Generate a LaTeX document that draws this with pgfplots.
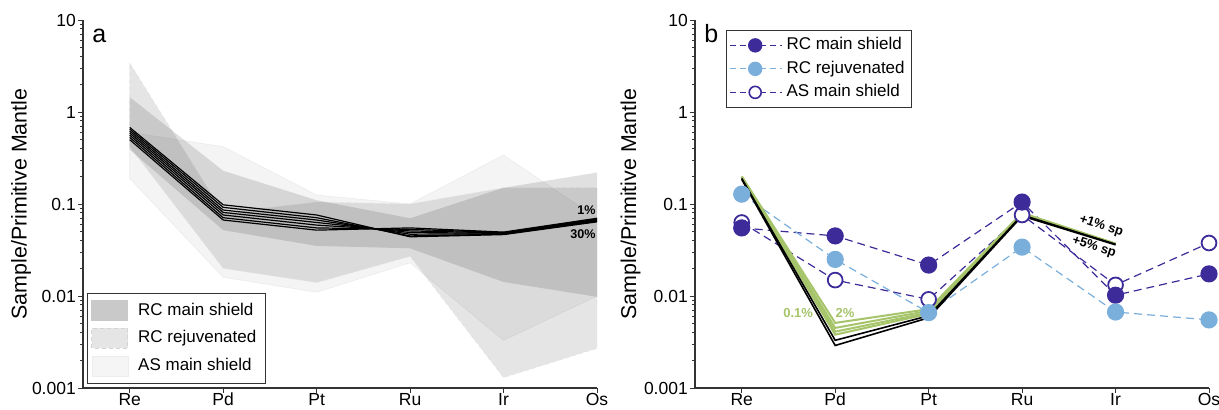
\documentclass[border=0pt]{standalone}
\usepackage{fontspec}
\setmainfont{Liberation Sans}
\usepackage{pgfplots}
\pgfplotsset{compat=1.18}

\definecolor{rcmain}{RGB}{61,43,154}
\definecolor{rcrej}{RGB}{122,174,219}
\definecolor{modgreen}{RGB}{166,196,106}

\begin{document}
\begin{tikzpicture}
\useasboundingbox (0,0) rectangle (609.5pt,204.5pt);

% ---------------- panel a ----------------
\begin{axis}[
  scale only axis, width=257pt, height=184pt,
  ymode=log, ymin=0.001, ymax=10,
  xmin=-0.5, xmax=5,
  axis x line*=bottom, axis y line*=left,
  axis line style={black!80, line width=0.6pt},
  ytick={0.001,0.01,0.1,1,10},
  yticklabels={0.001,0.01,0.1,1,10},
  minor ytick={0.002,0.003,0.004,0.005,0.006,0.007,0.008,0.009,
               0.02,0.03,0.04,0.05,0.06,0.07,0.08,0.09,
               0.2,0.3,0.4,0.5,0.6,0.7,0.8,0.9,2,3,4,5,6,7,8,9},
  xtick={0,1,2,3,4,5},
  xticklabels={Re,Pd,Pt,Ru,Ir,Os},
  tick align=outside,
  major tick length=2.6pt, minor tick length=1.6pt,
  tick style={black!80, line width=0.5pt},
  ticklabel style={font=\fontsize{8.75}{10}\selectfont},
  yticklabel style={inner sep=0.8pt},
  xticklabel style={inner sep=0pt, yshift=0.3pt},
  ylabel={Sample/Primitive Mantle},
  ylabel style={font=\fontsize{10.7}{12}\selectfont, anchor=center,
                at={(axis description cs:-0.1206,0.5)}},
  at={(41.5pt,10.5pt)}, anchor=south west,
  legend style={at={(0,0)}, anchor=south west, xshift=2pt, yshift=2pt,
    draw=black!80, line width=0.6pt, inner sep=1.8pt,
    font=\fontsize{8.5}{10}\selectfont,
    nodes={text height=6.2pt, text depth=1.8pt, inner sep=2.9pt},
    row sep=0pt},
  legend cell align=left,
]
\addlegendimage{legend image code/.code={\fill[black!21] (0pt,-5pt) rectangle (18pt,5pt); \path (20pt,0pt);}}
\addlegendentry{RC main shield}
\addlegendimage{legend image code/.code={\draw[fill=black!10, draw=black!17, line width=0.4pt, dash pattern=on 2pt off 1.5pt] (0pt,-5pt) rectangle (18pt,5pt); \path (20pt,0pt);}}
\addlegendentry{RC rejuvenated}
\addlegendimage{legend image code/.code={\draw[fill=black!4, draw=black!7, line width=0.3pt] (0pt,-5pt) rectangle (18pt,5pt); \path (20pt,0pt);}}
\addlegendentry{AS main shield}

% AS main shield envelope
\addplot[forget plot, fill=black, fill opacity=0.045, draw=black!8, line width=0.3pt]
  coordinates {(0,0.6) (1,0.42) (2,0.125) (3,0.1) (4,0.34) (5,0.07)
               (5,0.01) (4,0.0033) (3,0.023) (2,0.011) (1,0.016) (0,0.19)} -- cycle;
% RC rejuvenated envelope
\addplot[forget plot, fill=black, fill opacity=0.1, draw=black!11, line width=0.3pt,
         dash pattern=on 2pt off 1.5pt]
  coordinates {(0,3.4) (1,0.08) (2,0.105) (3,0.1) (4,0.15) (5,0.15)
               (5,0.0027) (4,0.0013) (3,0.027) (2,0.014) (1,0.02) (0,0.42)} -- cycle;
% RC main shield envelope
\addplot[forget plot, fill=black, fill opacity=0.12, draw=none]
  coordinates {(0,1.45) (1,0.23) (2,0.11) (3,0.07) (4,0.15) (5,0.22)
               (5,0.0098) (4,0.0142) (3,0.033) (2,0.035) (1,0.052) (0,0.39)} -- cycle;

% melting curves, 1% to 30%
\addplot[forget plot, black, line width=0.6pt] coordinates {(0,0.50) (1,0.067) (2,0.052) (3,0.055) (4,0.0495) (5,0.070)};
\addplot[forget plot, black, line width=0.6pt] coordinates {(0,0.53) (1,0.071) (2,0.055) (3,0.053) (4,0.0490) (5,0.069)};
\addplot[forget plot, black, line width=0.6pt] coordinates {(0,0.56) (1,0.076) (2,0.059) (3,0.051) (4,0.0485) (5,0.068)};
\addplot[forget plot, black, line width=0.6pt] coordinates {(0,0.59) (1,0.081) (2,0.063) (3,0.049) (4,0.0480) (5,0.067)};
\addplot[forget plot, black, line width=0.6pt] coordinates {(0,0.62) (1,0.086) (2,0.067) (3,0.047) (4,0.0475) (5,0.066)};
\addplot[forget plot, black, line width=0.6pt] coordinates {(0,0.65) (1,0.092) (2,0.071) (3,0.045) (4,0.0470) (5,0.065)};
\addplot[forget plot, black, line width=0.6pt] coordinates {(0,0.68) (1,0.098) (2,0.076) (3,0.044) (4,0.0465) (5,0.064)};

\node[anchor=east, inner sep=0pt, font=\bfseries\fontsize{6.3}{7}\selectfont] at (axis cs:4.99,0.086) {1\%};
\node[anchor=east, inner sep=0pt, font=\bfseries\fontsize{6.3}{7}\selectfont] at (axis cs:4.99,0.047) {30\%};
\end{axis}

% ---------------- panel b ----------------
\begin{axis}[
  scale only axis, width=257pt, height=184pt,
  ymode=log, ymin=0.001, ymax=10,
  xmin=-0.5, xmax=5,
  axis x line*=bottom, axis y line*=left,
  axis line style={black!80, line width=0.6pt},
  ytick={0.001,0.01,0.1,1,10},
  yticklabels={0.001,0.01,0.1,1,10},
  minor ytick={0.002,0.003,0.004,0.005,0.006,0.007,0.008,0.009,
               0.02,0.03,0.04,0.05,0.06,0.07,0.08,0.09,
               0.2,0.3,0.4,0.5,0.6,0.7,0.8,0.9,2,3,4,5,6,7,8,9},
  xtick={0,1,2,3,4,5},
  xticklabels={Re,Pd,Pt,Ru,Ir,Os},
  tick align=outside,
  major tick length=2.6pt, minor tick length=1.6pt,
  tick style={black!80, line width=0.5pt},
  ticklabel style={font=\fontsize{8.75}{10}\selectfont},
  yticklabel style={inner sep=0.8pt},
  xticklabel style={inner sep=0pt, yshift=0.3pt},
  ylabel={Sample/Primitive Mantle},
  ylabel style={font=\fontsize{10.7}{12}\selectfont, anchor=center,
                at={(axis description cs:-0.1255,0.5)}},
  at={(347.5pt,10.5pt)}, anchor=south west,
  legend style={at={(0,1)}, anchor=north west, xshift=15.5pt, yshift=-5pt,
    draw=black!80, line width=0.6pt, inner sep=1.5pt,
    font=\fontsize{8.5}{10}\selectfont,
    nodes={text height=6.2pt, text depth=1.8pt, inner sep=1.875pt},
    row sep=0pt},
  legend cell align=left,
]
\addlegendimage{legend image code/.code={
  \draw[rcmain, line width=0.6pt, dash pattern=on 3pt off 2pt] (0pt,0pt) -- (26pt,0pt);
  \fill[rcmain] (12.5pt,0pt) circle (3.3pt);}}
\addlegendentry{RC main shield}
\addlegendimage{legend image code/.code={
  \draw[rcrej, line width=0.6pt, dash pattern=on 3pt off 2pt] (0pt,0pt) -- (26pt,0pt);
  \fill[rcrej] (12.5pt,0pt) circle (3.3pt);}}
\addlegendentry{RC rejuvenated}
\addlegendimage{legend image code/.code={
  \draw[rcmain, line width=0.6pt, dash pattern=on 3pt off 2pt] (0pt,0pt) -- (26pt,0pt);
  \draw[rcmain, fill=white, line width=0.8pt] (12.5pt,0pt) circle (3.0pt);}}
\addlegendentry{AS main shield}

% AS main shield
\addplot[forget plot, rcmain, line width=0.6pt, dash pattern=on 4pt off 2.5pt,
  mark=*, mark size=3.7pt, mark options={solid, fill=white, draw=rcmain, line width=0.9pt}]
  coordinates {(0,0.063) (1,0.0149) (2,0.0092) (3,0.076) (4,0.0132) (5,0.0377)};
% RC main shield
\addplot[forget plot, rcmain, line width=0.6pt, dash pattern=on 4pt off 2.5pt,
  mark=*, mark size=4pt, mark options={solid, fill=rcmain, draw=rcmain}]
  coordinates {(0,0.055) (1,0.045) (2,0.0217) (3,0.105) (4,0.0102) (5,0.0174)};
% RC rejuvenated
\addplot[forget plot, rcrej, line width=0.6pt, dash pattern=on 4pt off 2.5pt,
  mark=*, mark size=4pt, mark options={solid, fill=rcrej, draw=rcrej}]
  coordinates {(0,0.128) (1,0.025) (2,0.0066) (3,0.034) (4,0.0067) (5,0.0055)};

% model melts, 0.1% to 2%
\addplot[forget plot, modgreen, line width=1pt] coordinates {(0,0.200) (1,0.0051) (2,0.0072) (3,0.080) (4,0.0370)};
\addplot[forget plot, modgreen, line width=1pt] coordinates {(0,0.198) (1,0.0045) (2,0.0069) (3,0.079) (4,0.0370)};
\addplot[forget plot, modgreen, line width=1pt] coordinates {(0,0.196) (1,0.0041) (2,0.0066) (3,0.078) (4,0.0370)};
\addplot[forget plot, modgreen, line width=1pt] coordinates {(0,0.194) (1,0.0038) (2,0.0064) (3,0.077) (4,0.0370)};
% with added sulfide
\addplot[forget plot, black, line width=0.8pt] coordinates {(0,0.190) (1,0.0033) (2,0.0061) (3,0.076) (4,0.0365)};
\addplot[forget plot, black, line width=0.8pt] coordinates {(0,0.185) (1,0.0029) (2,0.0058) (3,0.074) (4,0.0360)};

\node[modgreen, font=\bfseries\fontsize{6.5}{7}\selectfont] at (axis cs:0.603,0.00653) {0.1\%};
\node[modgreen, font=\bfseries\fontsize{6.5}{7}\selectfont] at (axis cs:1.106,0.00653) {2\%};
\node[rotate=-18, font=\bfseries\fontsize{6.5}{7}\selectfont] at (axis cs:3.847,0.0577) {+1\% sp};
\node[rotate=-18, font=\bfseries\fontsize{6.5}{7}\selectfont] at (axis cs:3.77,0.034) {+5\% sp};
\end{axis}

\node[anchor=base west, inner sep=0pt, font=\fontsize{12.5}{14}\selectfont] at (46pt,183.5pt) {a};
\node[anchor=base west, inner sep=0pt, font=\fontsize{12.5}{14}\selectfont] at (352pt,183.5pt) {b};
\end{tikzpicture}
\end{document}
